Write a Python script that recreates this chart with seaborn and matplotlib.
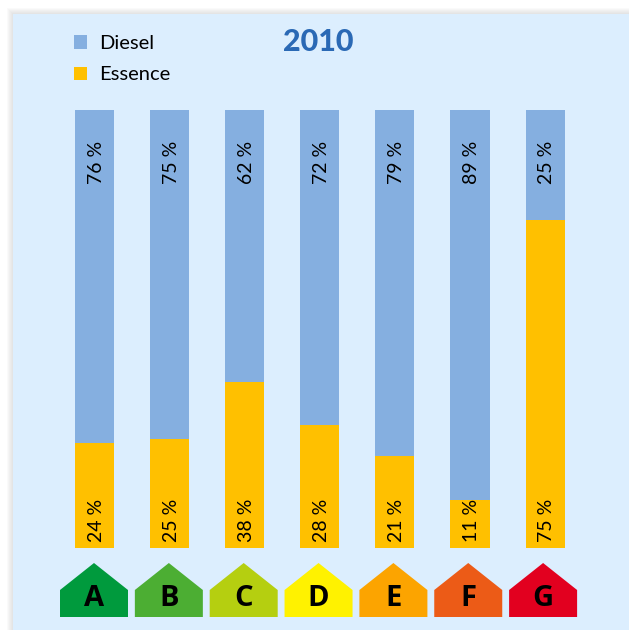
import numpy as np
import pandas as pd
import seaborn as sns
import matplotlib.pyplot as plt
from matplotlib.patches import Rectangle
from matplotlib.path import Path

classes = ['A', 'B', 'C', 'D', 'E', 'F', 'G']
diesel = [76, 75, 62, 72, 79, 89, 25]
essence = [24, 25, 38, 28, 21, 11, 75]
class_colors = ['#009A3D', '#4CAE33', '#B5CF10', '#FFF200', '#FCA400', '#EC5B17', '#E2001F']

COL_DIESEL = '#85AFE0'
COL_ESSENCE = '#FFC000'
COL_BG = '#DCEEFE'
W, H = 629, 630

sns.set_theme(style='white')
plt.rcParams['font.family'] = ['Lato', 'DejaVu Sans']

df = pd.DataFrame({'classe': classes, 'Diesel': diesel, 'Essence': essence})

fig = plt.figure(figsize=(W / 100, H / 100), dpi=100, facecolor='white')

# soft shadow round the panel, then the panel itself
for i in range(6):
    fig.patches.append(Rectangle(((13 - 6 + i) / W, 0), 1, (H - 14 + 6 - i) / H,
                                 transform=fig.transFigure, facecolor='#808080',
                                 alpha=0.035, edgecolor='none', zorder=-2))
fig.patches.append(Rectangle((13 / W, 0), 1, (H - 14) / H, transform=fig.transFigure,
                             facecolor=COL_BG, edgecolor='none', zorder=-1))

# bars: axes spans x 13..629 px, y 110..548 px
ax = fig.add_axes([13 / W, (H - 548) / H, (W - 13) / W, 438 / H])
ax.patch.set_alpha(0)
sns.barplot(data=df, x='classe', y='Diesel', bottom=df['Essence'], color=COL_DIESEL,
            width=0.52, saturation=1, linewidth=0, label='Diesel', ax=ax)
sns.barplot(data=df, x='classe', y='Essence', color=COL_ESSENCE,
            width=0.52, saturation=1, linewidth=0, label='Essence', ax=ax)
ax.set_xlim((13 - 94.5) / 75.1, (629 - 94.5) / 75.1)
ax.set_ylim(0, 100)
ax.axis('off')

for i in range(len(classes)):
    ax.text(i + 0.02, 83.1, f'{diesel[i]} %', rotation=90, ha='center', va='bottom',
            fontsize=14, color='black')
    ax.text(i + 0.02, 1.4, f'{essence[i]} %', rotation=90, ha='center', va='bottom',
            fontsize=14, color='black')

handles, labels = ax.get_legend_handles_labels()
ax.legend(handles, labels, loc='upper left', bbox_to_anchor=(61 / 616, 1 + 75 / 438),
          frameon=False, fontsize=14.5, handlelength=0.645, handleheight=0.645,
          handletextpad=0.6, labelspacing=0.72, borderpad=0, borderaxespad=0,
          labelcolor='black')

fig.text(318 / W, 1 - 42 / H, '2010', ha='center', va='center', fontsize=22,
         fontweight='black', color='#2A69B5')

# energy class houses, on their own slightly tighter spacing
ax2 = fig.add_axes([13 / W, 0, (W - 13) / W, 70 / H])
ax2.patch.set_alpha(0)
house = Path([(-1, -0.794), (1, -0.794), (1, 0), (0, 0.794), (-1, 0), (-1, -0.794)], closed=True)
sns.scatterplot(data=df, x='classe', y=0, hue='classe', palette=class_colors, marker=house,
                s=(68 * 0.72) ** 2, linewidth=0, legend=False, ax=ax2)
ax2.set_xlim((13 - 94) / 74.85, (629 - 94) / 74.85)
ax2.set_ylim(-40, 30)   # y runs in pixels, 0 at the middle of the house
ax2.axis('off')
for i, c in enumerate(classes):
    ax2.text(i, -9, c, ha='center', va='center', fontsize=21, fontweight='bold',
             family=['Open Sans', 'DejaVu Sans'], color='black')

fig.savefig('out.png', dpi=100, facecolor='white')
